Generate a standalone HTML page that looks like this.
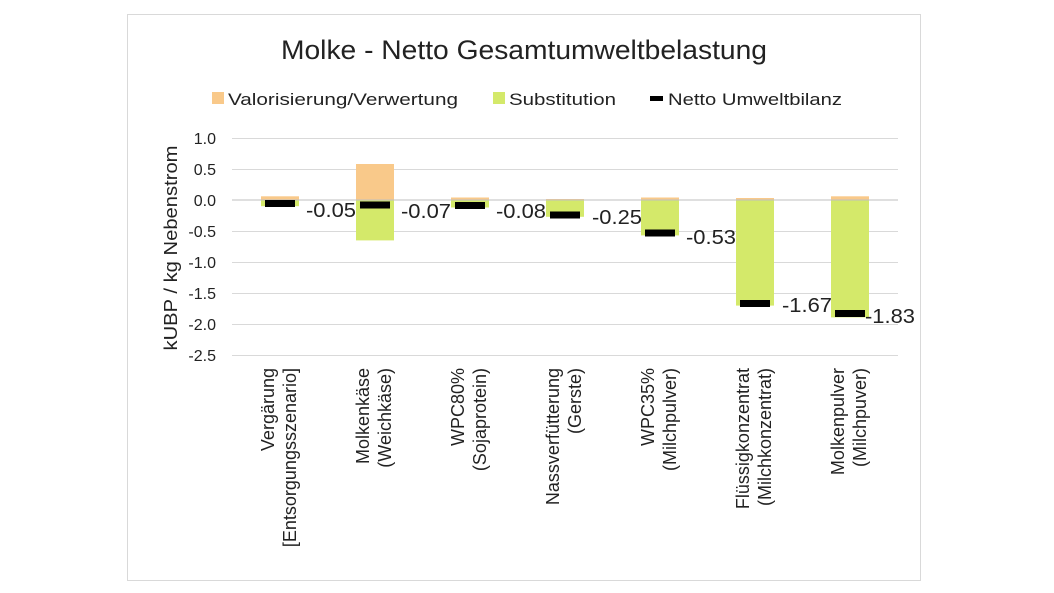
<!DOCTYPE html>
<html><head><meta charset="utf-8"><style>body{margin:0;background:#fff}svg{display:block;font-family:"Liberation Sans",sans-serif}</style></head><body>
<svg width="1054" height="593" viewBox="0 0 1054 593">
<rect x="127.5" y="14.5" width="793" height="566" fill="#fff" stroke="#d9d9d9"/>
<text x="524" y="59" font-size="27" text-anchor="middle" fill="#222" textLength="486" lengthAdjust="spacingAndGlyphs">Molke - Netto Gesamtumweltbelastung</text>
<rect x="212" y="92" width="12" height="12" fill="#f9c98a"/><text x="228" y="105" font-size="17" fill="#222" textLength="230" lengthAdjust="spacingAndGlyphs">Valorisierung/Verwertung</text>
<rect x="493" y="92" width="12" height="12" fill="#d4e96a"/><text x="509" y="105" font-size="17" fill="#222" textLength="107" lengthAdjust="spacingAndGlyphs">Substitution</text>
<rect x="650" y="96" width="13" height="5" fill="#000"/><text x="668" y="105" font-size="17" fill="#222" textLength="174" lengthAdjust="spacingAndGlyphs">Netto Umweltbilanz</text>
<g stroke="#d9d9d9" stroke-width="1">
<line x1="232" x2="898" y1="138.5" y2="138.5"/><line x1="232" x2="898" y1="169.5" y2="169.5"/>
<line x1="232" x2="898" y1="231.5" y2="231.5"/><line x1="232" x2="898" y1="262.5" y2="262.5"/>
<line x1="232" x2="898" y1="293.5" y2="293.5"/><line x1="232" x2="898" y1="324.5" y2="324.5"/><line x1="232" x2="898" y1="355.5" y2="355.5"/>
</g>
<g font-size="16" fill="#222" text-anchor="end">
<text x="216" y="144">1.0</text><text x="216" y="175">0.5</text><text x="216" y="206">0.0</text><text x="216" y="237">-0.5</text><text x="216" y="268">-1.0</text><text x="216" y="299">-1.5</text><text x="216" y="330">-2.0</text><text x="216" y="361">-2.5</text>
</g>
<text transform="translate(177,248) rotate(-90)" font-size="18" fill="#222" text-anchor="middle" textLength="205" lengthAdjust="spacingAndGlyphs">kUBP / kg Nebenstrom</text>
<g id="bars">
<rect x="261" y="196.3" width="38" height="3.7" fill="#f9c98a"/><rect x="261" y="200" width="38" height="6.2" fill="#d4e96a"/>
<rect x="356" y="164" width="38" height="36" fill="#f9c98a"/><rect x="356" y="200" width="38" height="40.4" fill="#d4e96a"/>
<rect x="451" y="197.5" width="38" height="2.5" fill="#f9c98a"/><rect x="451" y="200" width="38" height="7.5" fill="#d4e96a"/>
<rect x="546" y="199" width="38" height="1" fill="#f9c98a"/><rect x="546" y="200" width="38" height="16.8" fill="#d4e96a"/>
<rect x="641" y="197.5" width="38" height="2.5" fill="#f9c98a"/><rect x="641" y="200" width="38" height="35.4" fill="#d4e96a"/>
<rect x="736" y="198" width="38" height="2" fill="#f9c98a"/><rect x="736" y="200" width="38" height="105.6" fill="#d4e96a"/>
<rect x="831" y="196.3" width="38" height="3.7" fill="#f9c98a"/><rect x="831" y="200" width="38" height="117.4" fill="#d4e96a"/>
</g>
<line x1="232" x2="898" y1="200" y2="200" stroke="#bfbfbf"/>
<g fill="#000">
<rect x="265" y="200" width="30" height="7"/><rect x="360" y="201.5" width="30" height="7"/><rect x="455" y="202" width="30" height="7"/>
<rect x="550" y="211.5" width="30" height="7"/><rect x="645" y="229.5" width="30" height="7"/><rect x="740" y="300" width="30" height="7"/><rect x="835" y="310" width="30" height="7"/>
</g>
<g font-size="20" fill="#222">
<text x="306" y="217" textLength="50" lengthAdjust="spacingAndGlyphs">-0.05</text><text x="401" y="218" textLength="50" lengthAdjust="spacingAndGlyphs">-0.07</text><text x="496" y="218" textLength="50" lengthAdjust="spacingAndGlyphs">-0.08</text><text x="592" y="224" textLength="50" lengthAdjust="spacingAndGlyphs">-0.25</text>
<text x="686" y="244" textLength="50" lengthAdjust="spacingAndGlyphs">-0.53</text><text x="782" y="312" textLength="50" lengthAdjust="spacingAndGlyphs">-1.67</text><text x="865" y="323" textLength="50" lengthAdjust="spacingAndGlyphs">-1.83</text>
</g>
<g font-size="18" fill="#222" text-anchor="end">
<text transform="translate(274,368) rotate(-90)">Vergärung</text><text transform="translate(296,368) rotate(-90)">[Entsorgungsszenario]</text>
<text transform="translate(369,368) rotate(-90)">Molkenkäse</text><text transform="translate(391,368) rotate(-90)">(Weichkäse)</text>
<text transform="translate(464,368) rotate(-90)">WPC80%</text><text transform="translate(486,368) rotate(-90)">(Sojaprotein)</text>
<text transform="translate(559,368) rotate(-90)">Nassverfütterung</text><text transform="translate(581,368) rotate(-90)">(Gerste)</text>
<text transform="translate(654,368) rotate(-90)">WPC35%</text><text transform="translate(676,368) rotate(-90)">(Milchpulver)</text>
<text transform="translate(749,368) rotate(-90)">Flüssigkonzentrat</text><text transform="translate(771,368) rotate(-90)">(Milchkonzentrat)</text>
<text transform="translate(844,368) rotate(-90)">Molkenpulver</text><text transform="translate(866,368) rotate(-90)">(Milchpuver)</text>
</g>
</svg>
</body></html>
